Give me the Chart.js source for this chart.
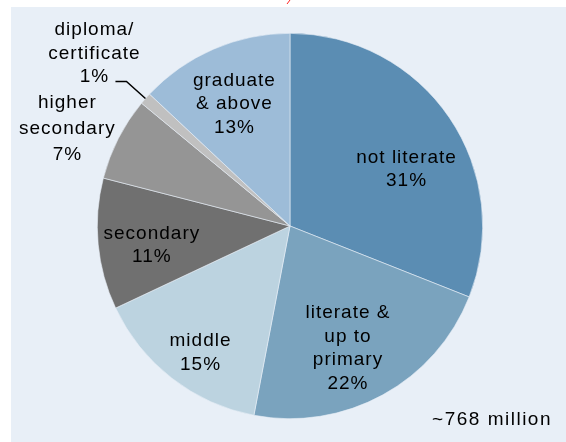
<!DOCTYPE html>
<html>
<head>
<meta charset="utf-8">
<script src="https://cdn.jsdelivr.net/npm/chart.js@4"></script>
<style>
  html, body { margin: 0; padding: 0; background: #ffffff; }
  #wrap { position: relative; width: 566px; height: 442px; }
  #panel { position: absolute; left: 11px; top: 7px; right: 0; bottom: 0; background: #e8eff7; }
  #eduChart { position: absolute; left: 0; top: 0; }
</style>
</head>
<body>
<div id="wrap">
  <div id="panel"></div>
  <canvas id="eduChart" width="566" height="442"></canvas>
</div>
<script>
  // data
  const categories = ['not literate', 'literate & up to primary', 'middle', 'secondary', 'higher secondary', 'diploma/ certificate', 'graduate & above'];
  const shares = [31, 22, 15, 11, 7, 1, 13];
  const labelLines = [
    ['not literate'],
    ['literate &', 'up to', 'primary'],
    ['middle'],
    ['secondary'],
    ['higher', 'secondary'],
    ['diploma/', 'certificate'],
    ['graduate', '& above']
  ];
  const totalNote = '~768 million';

  const colors = ['#5b8db3', '#7aa3be', '#bcd3e0', '#707070', '#959595', '#c0c0c0', '#9dbcd8'];
  // label placement: fraction of radius along the mid angle, then a small nudge
  const labelRadius = [0.70, 0.70, 0.80, 0.72, 1.25, 0, 0.70];
  const labelShift = [[5, 19], [-7, 4], [5, 5], [0, 6], [-8, 12], [0, 0], [-2, 2]];

  const labelPlugin = {
    id: 'sliceLabels',
    afterDatasetsDraw(chart) {
      const ctx = chart.ctx;
      const meta = chart.getDatasetMeta(0);
      ctx.save();
      ctx.font = '19px "Liberation Sans", Arial, sans-serif';
      ctx.letterSpacing = '1px';
      ctx.fillStyle = '#000';
      ctx.textAlign = 'center';
      ctx.textBaseline = 'middle';
      meta.data.forEach((arc, i) => {
        const p = arc.getProps(['x', 'y', 'startAngle', 'endAngle', 'outerRadius'], true);
        const mid = (p.startAngle + p.endAngle) / 2;
        const lines = labelLines[i].concat([shares[i] + '%']);
        let cx, cy, lh = 23.5;
        if (i === 5) {
          // small slice: label outside with a leader line
          const ex = p.x + Math.cos(mid) * p.outerRadius;
          const ey = p.y + Math.sin(mid) * p.outerRadius;
          ctx.strokeStyle = '#000';
          ctx.lineWidth = 1.5;
          ctx.beginPath();
          ctx.moveTo(ex, ey);
          ctx.lineTo(ex - 19, ey - 17);
          ctx.lineTo(ex - 30, ey - 17);
          ctx.stroke();
          cx = ex - 51;
          cy = ey - 45;
        } else {
          cx = p.x + Math.cos(mid) * p.outerRadius * labelRadius[i] + labelShift[i][0];
          cy = p.y + Math.sin(mid) * p.outerRadius * labelRadius[i] + labelShift[i][1];
        }
        if (i === 4) lh = 26;
        const y0 = cy - (lines.length - 1) * lh / 2;
        lines.forEach((t, k) => ctx.fillText(t, cx, y0 + k * lh));
      });
      ctx.textAlign = 'right';
      ctx.letterSpacing = '1.5px';
      ctx.fillText(totalNote, 552, 420);
      // small red mark at the top edge
      ctx.letterSpacing = '0px';
      ctx.strokeStyle = '#ff2020';
      ctx.lineWidth = 1;
      ctx.beginPath();
      ctx.moveTo(287, 4);
      ctx.lineTo(290, 0);
      ctx.stroke();
      ctx.restore();
    }
  };

  const ctx = document.getElementById('eduChart').getContext('2d');

  const chart = new Chart(ctx, {
    type: 'pie',
    data: {
      labels: categories,
      datasets: [{
        data: shares,
        backgroundColor: colors,
        borderColor: '#e8eff7',
        borderWidth: 0.6
      }]
    },
    options: {
      responsive: false,
      animation: false,
      layout: { padding: { top: 33, bottom: 23, left: 97, right: 83 } },
      plugins: {
        legend: { display: false },
        tooltip: { enabled: false }
      }
    },
    plugins: [labelPlugin]
  });
</script>
</body>
</html>
